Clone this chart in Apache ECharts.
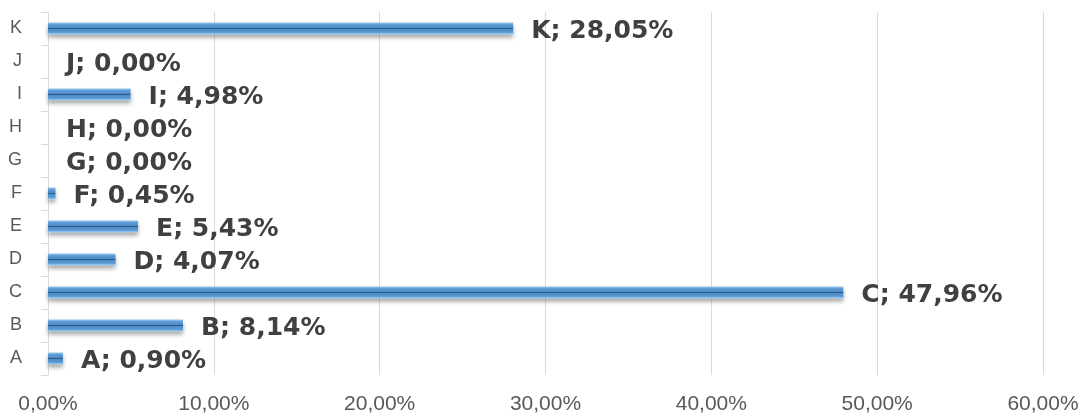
<html>
<head>
	<meta http-equiv="Content-Type" content="text/html; charset=UTF-8">
	<title>charts</title>
	<style>
		html, body { margin: 0; padding: 0; background: #fff; }
	</style>
</head>
<body>
	<div id="chart" style="width:1083px; height:418px;"></div>

	<script type="text/javascript" src="https://cdn.jsdelivr.net/npm/echarts@6/dist/echarts.min.js"></script>
	<script type="text/javascript">
	var categories = ['A', 'B', 'C', 'D', 'E', 'F', 'G', 'H', 'I', 'J', 'K'];
	var shares = [0.90, 8.14, 47.96, 4.07, 5.43, 0.45, 0.00, 0.00, 4.98, 0.00, 28.05];
	var xTicks = [0, 10, 20, 30, 40, 50, 60];

	function pct(v) {
		return v.toFixed(2).replace('.', ',') + '%';
	}

	var chart = echarts.init(document.getElementById('chart'));

	// bevelled look: light edges, dark groove in the middle
	var barColor = new echarts.graphic.LinearGradient(0, 0, 0, 1, [
		{offset: 0, color: '#9ccaf0'},
		{offset: 0.18, color: '#5b9bd5'},
		{offset: 0.42, color: '#4f8dc9'},
		{offset: 0.5, color: '#2c5a88'},
		{offset: 0.58, color: '#4f8dc9'},
		{offset: 0.82, color: '#5b9bd5'},
		{offset: 1, color: '#b3dbf8'}
	]);

	var option = {
		animation: false,
		grid: {left: 48, right: 40, top: 12, bottom: 43},
		xAxis: {
			type: 'value',
			min: xTicks[0],
			max: xTicks[xTicks.length - 1],
			interval: 10,
			axisLine: {show: false},
			axisTick: {show: false},
			splitLine: {lineStyle: {color: '#d9d9d9', width: 1}},
			axisLabel: {
				margin: 19,
				color: '#595959',
				fontSize: 21,
				fontFamily: 'Liberation Sans',
				formatter: function (v) { return pct(v); }
			}
		},
		yAxis: {
			type: 'category',
			data: categories,
			axisLine: {lineStyle: {color: '#d9d9d9', width: 1}},
			axisTick: {show: true, length: 7, lineStyle: {color: '#d9d9d9'}},
			axisLabel: {
				margin: 26,
				color: '#595959',
				fontSize: 18,
				fontFamily: 'Liberation Sans'
			}
		},
		series: [{
			type: 'bar',
			data: shares,
			barWidth: 12,
			itemStyle: {
				color: barColor,
				shadowColor: 'rgba(0,0,0,0.35)',
				shadowBlur: 4,
				shadowOffsetY: 3
			},
			label: {
				show: true,
				position: 'right',
				distance: 18,
				offset: [0, 3],
				color: '#404040',
				fontSize: 25,
				fontWeight: 'bold',
				fontFamily: 'DejaVu Sans',
				formatter: function (p) { return p.name + '; ' + pct(p.value); }
			}
		}]
	};

	chart.setOption(option);
	</script>
</body>
</html>
